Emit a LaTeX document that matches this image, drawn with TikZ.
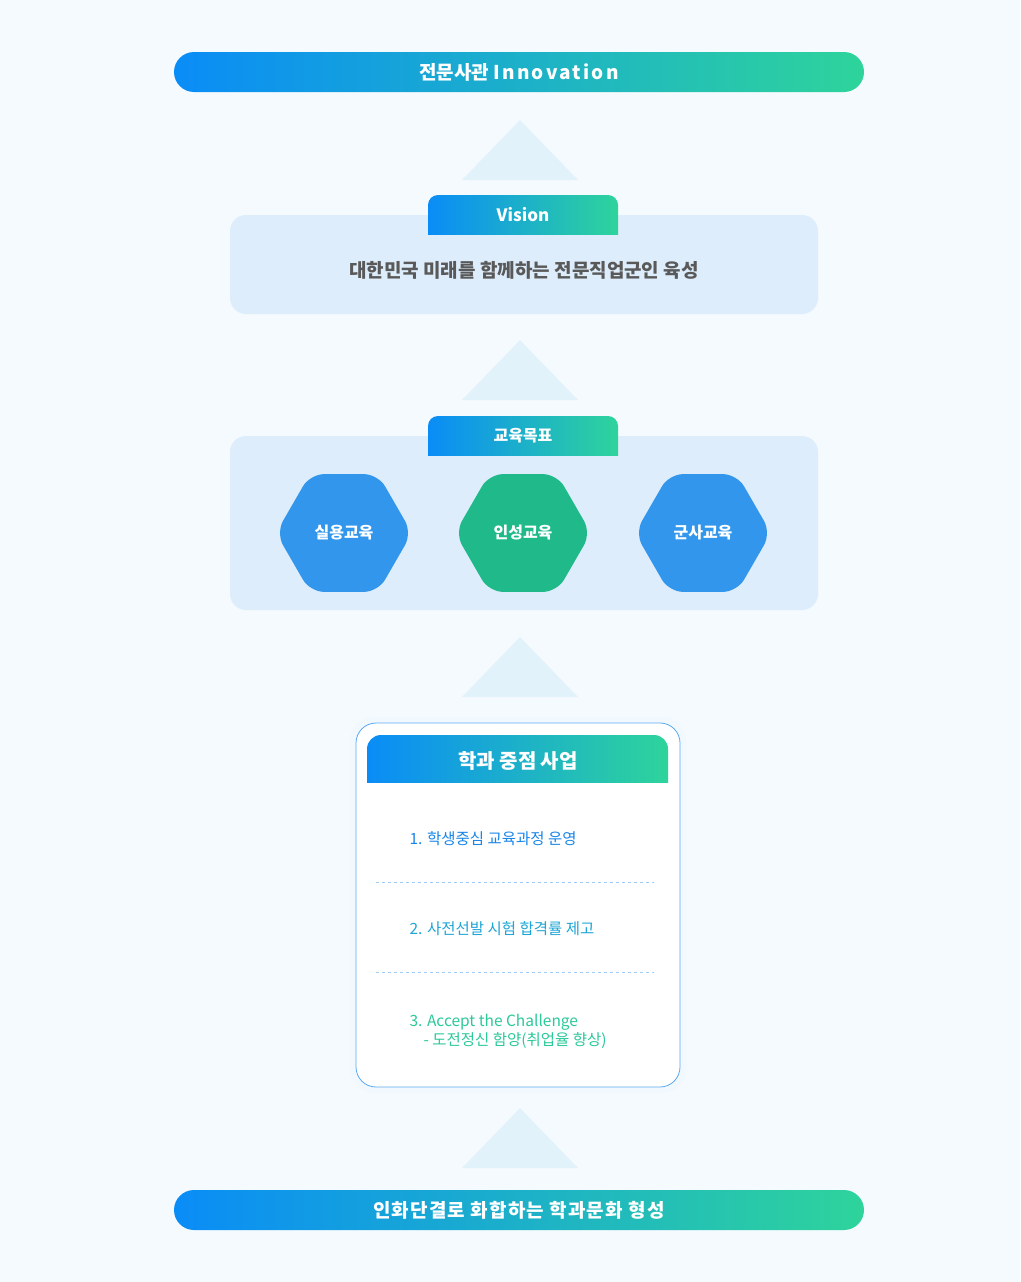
\documentclass[tikz,border=0pt]{standalone}
\usepackage{fontspec}
\setmainfont{Noto Sans CJK KR}
\usetikzlibrary{shapes.geometric}
\definecolor{gb}{HTML}{0A8CF7}
\definecolor{gg}{HTML}{2ED49B}
\definecolor{bg}{HTML}{F5FAFE}
\definecolor{tri}{HTML}{E2F2FB}
\definecolor{panel}{HTML}{DDEDFC}
\definecolor{hexb}{HTML}{3196EC}
\definecolor{hexg}{HTML}{1FB98A}
\definecolor{t1}{HTML}{1A86E8}
\definecolor{t2}{HTML}{1FA5D6}
\definecolor{t3}{HTML}{2CC99A}
\definecolor{cardline}{HTML}{5AAAF3}
\tikzset{
 grad/.style={left color=gb,right color=gg,draw=none},
 tritip/.style={fill=tri,draw=none},
 panelbox/.style={fill=panel,draw=none,rounded corners=16pt},
 hexa/.style={regular polygon,regular polygon sides=6,minimum size=136pt,rounded corners=14pt,draw=none,text=white,font=\fontsize{16}{16}\selectfont\bfseries},
 wtxt/.style={text=white,font=\fontsize{19}{19}\selectfont\bfseries},
 item/.style={anchor=west,font=\fontsize{15.5}{19}\selectfont},
}
\begin{document}
\begin{tikzpicture}[x=1pt,y=-1pt]
\useasboundingbox[fill=bg] (0,0) rectangle (1020,1282);
% top pill
\shade[grad,rounded corners=20pt] (174,52) rectangle (864,92);
\node[wtxt] (top) at (519,72) {전문사관 \addfontfeatures{LetterSpace=12}Innovation};
% triangles
\foreach \y/\n in {120/ta,340/tb,637/tc,1108/td}{
 \fill[tritip] (520,\y) -- (578,\y+60) -- (462,\y+60) -- cycle;
}
% vision
\fill[panelbox] (230,215) rectangle (818,314);
\shade[grad,rounded corners=10pt] (428,195) rectangle (618,245);
\fill[panel] (428,235) rectangle (618,246);
\node[text=white,font=\fontsize{17}{17}\selectfont\bfseries] (vis) at (523,215) {Vision};
\node[text=black!65,font=\fontsize{19}{19}\selectfont\bfseries] (vtext) at (524,270) {대한민국 미래를 함께하는 전문직업군인 육성};
% goals
\fill[panelbox] (230,436) rectangle (818,610);
\shade[grad,rounded corners=10pt] (428,416) rectangle (618,466);
\fill[panel] (428,456) rectangle (618,467);
\node[text=white,font=\fontsize{16}{16}\selectfont\bfseries] (goal) at (523,436) {교육목표};
\node[hexa,fill=hexb] (h1) at (344,533) {실용교육};
\node[hexa,fill=hexg] (h2) at (523,533) {인성교육};
\node[hexa,fill=hexb] (h3) at (703,533) {군사교육};
% card
\fill[white!60!panel,rounded corners=24pt] (350,717) rectangle (686,1093);
\filldraw[fill=white,draw=cardline,line width=0.8pt,rounded corners=20pt] (356,723) rectangle (680,1087);
\shade[grad,rounded corners=14pt] (367,735) rectangle (668,800);
\fill[white] (366,783) rectangle (669,801);
\node[wtxt,font=\fontsize{20}{20}\selectfont\bfseries] (hd) at (518,761) {학과 중점 사업};
\node[item,text=t1] (i1) at (406,839) {1. 학생중심 교육과정 운영};
\node[item,text=t2] (i2) at (406,929) {2. 사전선발 시험 합격률 제고};
\node[item,text=t3,align=left] (i3) at (406,1031) {3. Accept the Challenge\\\hspace*{14pt}- 도전정신 함양(취업율 향상)};
\draw[cardline!60,dashed] (376,882) -- (654,882);
\draw[cardline!60,dashed] (376,972) -- (654,972);
% bottom pill
\shade[grad,rounded corners=20pt] (174,1190) rectangle (864,1230);
\node[wtxt] (bot) at (519,1210) {\addfontfeatures{LetterSpace=6}인화단결로 화합하는 학과문화 형성};
\end{tikzpicture}
\end{document}
